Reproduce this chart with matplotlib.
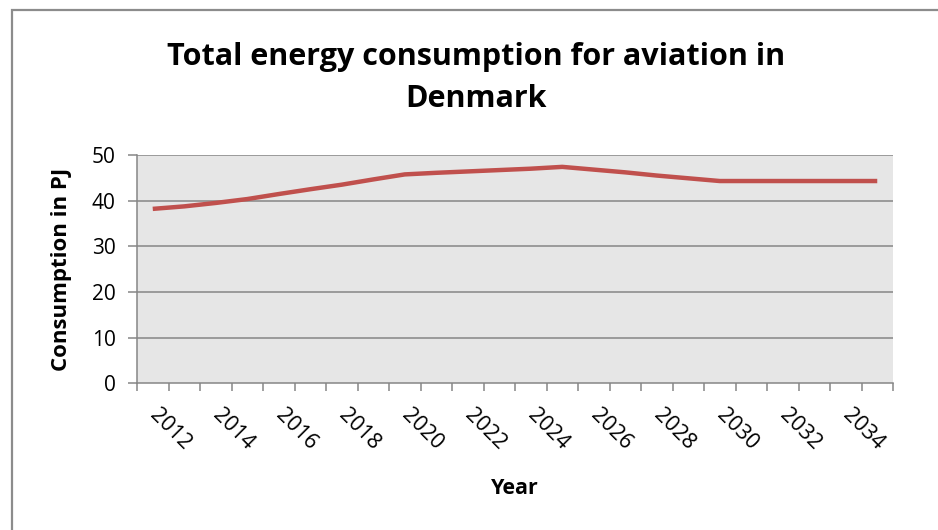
import matplotlib
matplotlib.use("Agg")
import matplotlib.pyplot as plt
from matplotlib.patches import Rectangle

plt.rcParams['font.family'] = ['Open Sans', 'DejaVu Sans']

years = list(range(2012, 2036))
consumption = [38.2, 38.75, 39.5, 40.35, 41.45, 42.5, 43.5, 44.65, 45.75,
               46.1, 46.4, 46.7, 47.0, 47.4, 46.8, 46.2, 45.5, 44.9,
               44.3, 44.3, 44.3, 44.3, 44.3, 44.3]
label_years = list(range(2012, 2036, 2))
yticks = [0, 10, 20, 30, 40, 50]

W, H = 938, 530
fig = plt.figure(figsize=(W / 100, H / 100), dpi=100)
fig.patch.set_facecolor('white')

# chart-area frame (cropped at right and bottom)
fig.patches.append(Rectangle((12 / W, -0.1), 1.2, 1.1 - 10 / H, transform=fig.transFigure,
                             fill=False, edgecolor='#8c8c8c', linewidth=1.6, clip_on=False))

ax = fig.add_axes([137 / W, 1 - 383.3 / H, (893 - 137) / W, (383.3 - 155) / H])
ax.set_facecolor('#e6e6e6')

x = list(range(len(years)))
ax.plot(x, consumption, color='#c0504d', linewidth=3.2, solid_capstyle='butt', zorder=3)

ax.set_xlim(-0.5, len(years) - 0.5)
ax.set_ylim(0, 50)

grid_c = '#868686'
for v in yticks[1:]:
    ax.axhline(v, color=grid_c, linewidth=1.1, zorder=1)

for s in ['top', 'right']:
    ax.spines[s].set_visible(False)
for s in ['left', 'bottom']:
    ax.spines[s].set_color(grid_c)
    ax.spines[s].set_linewidth(1.1)

ax.set_yticks(yticks)
ax.set_yticklabels([str(v) for v in yticks])
ax.tick_params(axis='y', which='major', direction='out', length=6.5, width=1.1,
               color=grid_c, labelsize=15, pad=9, labelcolor='black')

ax.set_xticks([i - 0.5 for i in range(len(years) + 1)])
ax.set_xticklabels([])
ax.tick_params(axis='x', which='major', direction='out', length=5.5, width=1.1, color=grid_c)

centers = [years.index(y) for y in label_years]
ax.set_xticks(centers, minor=True)
ax.set_xticklabels([str(y) for y in label_years], minor=True)
ax.tick_params(axis='x', which='minor', length=0, pad=21, labelsize=15.5, labelcolor='black')
for lab in ax.get_xticklabels(minor=True):
    lab.set_rotation(-45)
    lab.set_ha('left')
    lab.set_va('center')
    lab.set_rotation_mode('anchor')

fig.text(476.5 / W, 1 - 65 / H, 'Total energy consumption for aviation in',
         ha='center', va='baseline', fontsize=22, fontweight='bold')
fig.text(476.5 / W, 1 - 107 / H, 'Denmark',
         ha='center', va='baseline', fontsize=22, fontweight='bold')

fig.text(62 / W, 1 - 269 / H, 'Consumption in PJ', rotation=90,
         ha='center', va='center', fontsize=16, fontweight='bold')
fig.text(515 / W, 1 - 488 / H, 'Year', ha='center', va='center',
         fontsize=15.5, fontweight='bold')

fig.savefig('out.png', dpi=100, facecolor='white')
